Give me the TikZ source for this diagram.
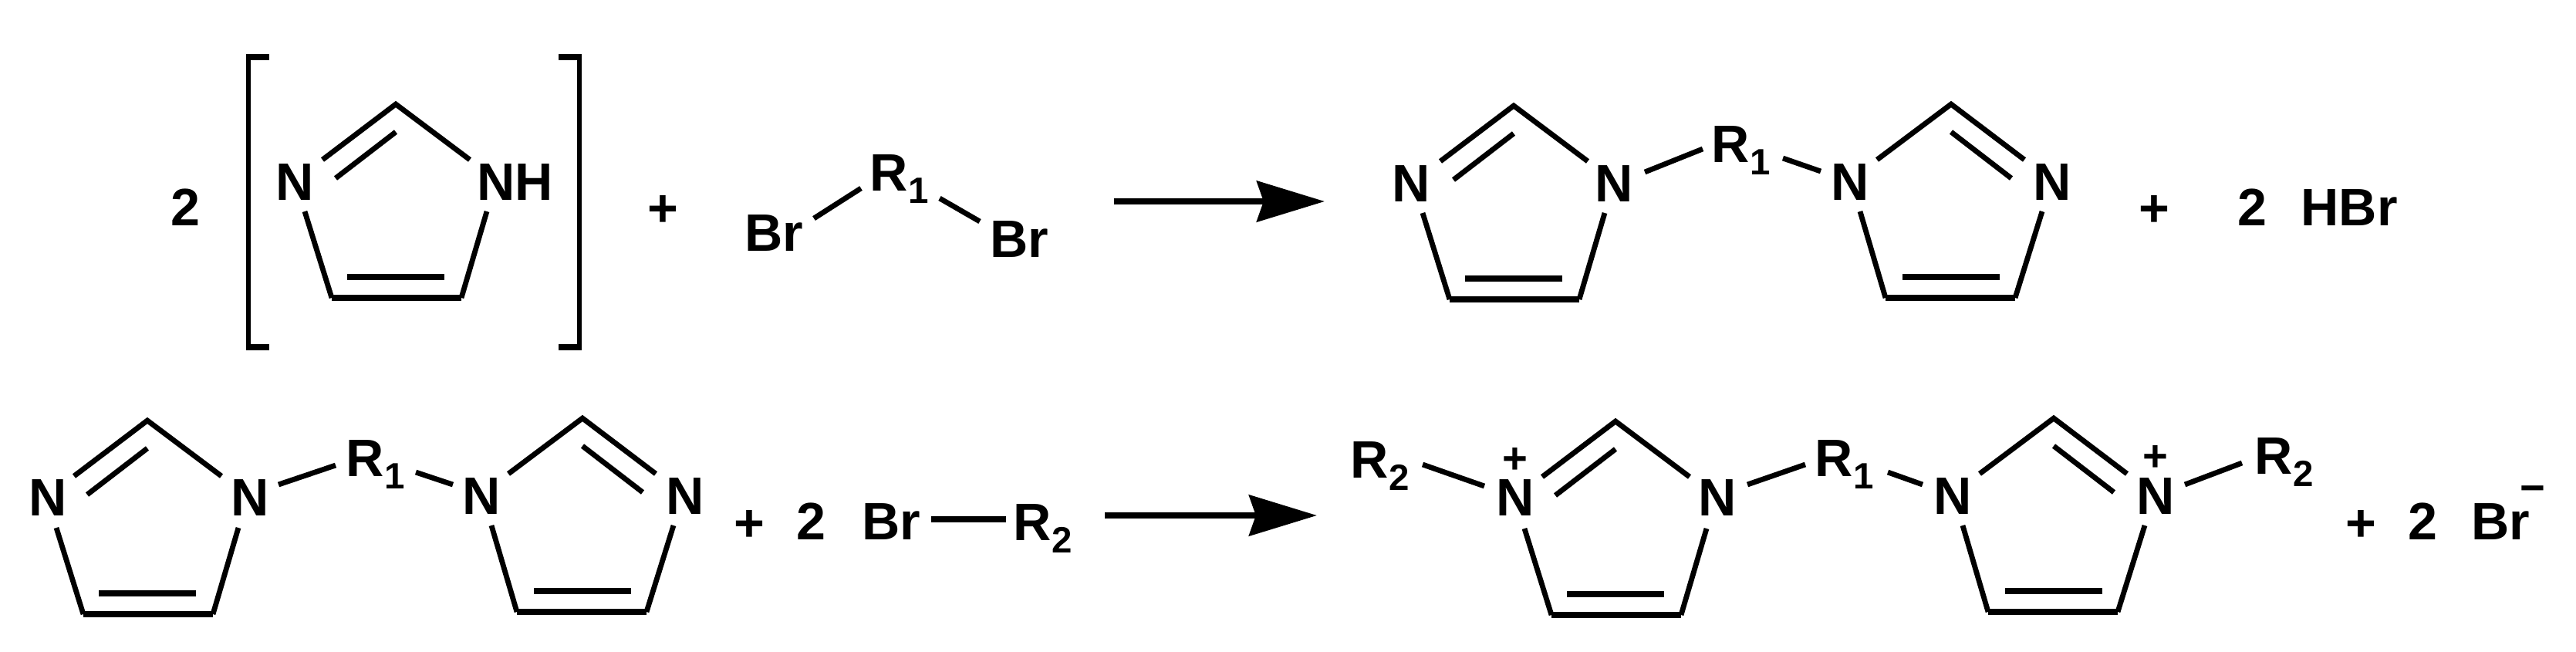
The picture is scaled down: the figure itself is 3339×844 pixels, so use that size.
\documentclass[tikz,border=0pt]{standalone}
\usepackage{fontspec}
\usetikzlibrary{arrows.meta}
\newfontfamily\chemf{Liberation Sans}
\newcommand\chemsize{\fontsize{19.4pt}{22pt}\selectfont}
\newcommand\Rsub[1]{R\kern0.3pt\raisebox{-4.6pt}{\fontsize{13.5pt}{14pt}\selectfont #1}}
\tikzset{
  lab/.style={anchor=base,inner sep=0pt,outer sep=0pt,font=\chemf\bfseries\chemsize,text=black},
  labw/.style={lab,anchor=base west},
  small/.style={lab,font=\chemf\bfseries\fontsize{16pt}{17pt}\selectfont},
  bond/.style={draw=black,line width=0.068cm,line cap=butt,line join=miter},
  bondh/.style={draw=black,line width=0.08cm,line cap=butt},
  brk/.style={draw=black,line width=0.06cm,line join=miter},
  brkcap/.style={draw=black,line width=0.08cm},
  rxn/.style={draw=black,line width=0.08cm,-{Stealth[length=25pt,width=15pt,inset=2.5pt]}}
}
\newcommand\imring[4]{%
  \begin{scope}[shift={(#2,#3)},xscale=#4]
    \coordinate (#1a) at (0,0);
    \coordinate (#1ol) at (-95,72);
    \coordinate (#1or) at (96,72);
    \coordinate (#1il) at (-78,96);
    \coordinate (#1ia) at (0,36);
    \coordinate (#1ll) at (-118,139);
    \coordinate (#1bl) at (-83,251);
    \coordinate (#1br) at (85,251);
    \coordinate (#1lr) at (118,139);
    \coordinate (#1cl) at (-63,224);
    \coordinate (#1cr) at (63,224);
    \draw[bond] (#1ol) -- (#1a) -- (#1or);
    \draw[bond] (#1il) -- (#1ia);
    \draw[bond] (#1ll) -- (#1bl);
    \draw[bond] (#1lr) -- (#1br);
    \draw[bondh] (#1bl) -- (#1br);
    \draw[bondh] (#1cl) -- (#1cr);
  \end{scope}}
\newcommand\link[6]{%
  \coordinate (#1s) at (#2,#3);
  \coordinate (#1e) at (#4,#5);
  \draw[#6] (#1s) -- (#1e);}
\begin{document}
\begin{tikzpicture}[x=0.01cm,y=-0.01cm]
\useasboundingbox (0,0) rectangle (3339,844);
% top row, left
\node[lab] (two1) at (240,292) {2};
\coordinate (lbt) at (349,74); \coordinate (lbtc) at (322,74);
\coordinate (lbbc) at (322,450); \coordinate (lbb) at (349,450);
\draw[brk] (lbtc) -- (lbbc);
\draw[brkcap] ([xshift=-0.9pt]lbtc) -- (lbt);
\draw[brkcap] ([xshift=-0.9pt]lbbc) -- (lbb);
\coordinate (rbt) at (724,74); \coordinate (rbtc) at (751,74);
\coordinate (rbbc) at (751,450); \coordinate (rbb) at (724,450);
\draw[brk] (rbtc) -- (rbbc);
\draw[brkcap] ([xshift=0.9pt]rbtc) -- (rbt);
\draw[brkcap] ([xshift=0.9pt]rbbc) -- (rbb);
\imring{ra}{513}{135}{1}
\node[lab] (na1) at (382,259) {N};
\node[labw] (na2) at (618,259) {NH};
\node[lab] (plus1) at (859,293) {+};
\node[lab] (bra1) at (1003,325) {Br};
\node[labw] (ra1) at (1127,247) {\Rsub{1}};
\node[lab] (bra2) at (1321,333) {Br};
\link{ba1}{1055}{283}{1116}{244}{bond}
\link{ba2}{1218}{257}{1270}{287}{bond}
\link{ar1}{1444}{261}{1717}{261}{rxn}
% top row, right
\imring{rb}{1962}{137}{1}
\imring{rc}{2529}{135}{-1}
\node[lab] (nb1) at (1829,261) {N};
\node[lab] (nb2) at (2092,261) {N};
\node[lab] (nc1) at (2398,259) {N};
\node[lab] (nc2) at (2660,259) {N};
\node[labw] (rb1) at (2218,210) {\Rsub{1}};
\link{bb1}{2132}{223}{2207}{193}{bond}
\link{bb2}{2311}{205}{2360}{222}{bond}
\node[lab] (plus2) at (2792,293) {+};
\node[lab] (two2) at (2919,292) {2};
\node[lab] (hbr) at (3045,292) {HBr};
% bottom row, left
\imring{rd}{191}{545}{1}
\imring{re}{755}{542}{-1}
\node[lab] (nd1) at (62,668) {N};
\node[lab] (nd2) at (324,668) {N};
\node[lab] (ne1) at (624,666) {N};
\node[lab] (ne2) at (888,666) {N};
\node[labw] (rd1) at (448,617) {\Rsub{1}};
\link{bd1}{361}{628}{435}{603}{bond}
\link{bd2}{539}{612}{587}{628}{bond}
\node[lab] (plus3) at (971,701) {+};
\node[lab] (two3) at (1051,699) {2};
\node[lab] (brc) at (1155,699) {Br};
\node[labw] (rd2) at (1313,700) {\Rsub{2}};
\link{bc}{1207}{673}{1304}{673}{bondh}
\link{ar2}{1432}{668}{1707}{668}{rxn}
% bottom row, right
\imring{rf}{2094}{546}{1}
\imring{rg}{2662}{542}{-1}
\node[labw] (rf2) at (1750,619) {\Rsub{2}};
\node[lab] (nf1) at (1964,668) {N};
\node[small] (pf) at (1964,613) {+};
\node[lab] (nf2) at (2226,668) {N};
\node[labw] (rf1) at (2352,617) {\Rsub{1}};
\node[lab] (ng1) at (2531,666) {N};
\node[lab] (ng2) at (2794,666) {N};
\node[small] (pg) at (2794,610) {+};
\node[labw] (rg2) at (2922,614) {\Rsub{2}};
\link{bf1}{1844}{602}{1924}{630}{bond}
\link{bf2}{2265}{628}{2340}{602}{bond}
\link{bg1}{2447}{612}{2492}{628}{bond}
\link{bg2}{2832}{628}{2906}{600}{bond}
\node[lab] (plus4) at (3060,701) {+};
\node[lab] (two4) at (3140,699) {2};
\node[lab] (brd) at (3241,699) {Br};
\node[small] (minus) at (3283,651) {−};
\end{tikzpicture}
\end{document}
